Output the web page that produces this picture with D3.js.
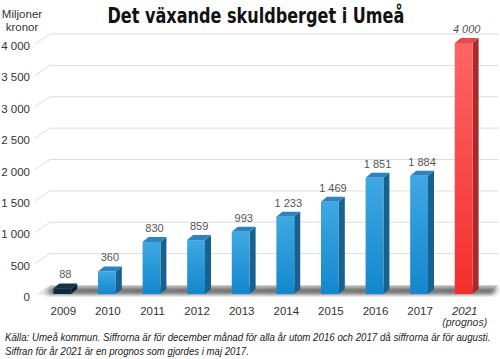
<!DOCTYPE html>
<html><head><meta charset="utf-8">
<script src="https://cdn.jsdelivr.net/npm/d3@7"></script>
<style>
body{margin:0;background:#fff;}
svg{display:block;font-family:"Liberation Sans",sans-serif;}
</style></head>
<body><svg id="c" width="500" height="359"></svg>
<script>
const years = ["2009","2010","2011","2012","2013","2014","2015","2016","2017","2021"];
const values = [88,360,830,859,993,1233,1469,1851,1884,4000];
const valueLabels = ["88","360","830","859","993","1 233","1 469","1 851","1 884","4 000"];
const forecast = [false,false,false,false,false,false,false,false,false,true];
const yTicks = [0,500,1000,1500,2000,2500,3000,3500,4000];
const yTickLabels = ["0","500","1 000","1 500","2 000","2 500","3 000","3 500","4 000"];

const svg = d3.select("#c");
const defs = svg.append("defs");
const x = d3.scaleBand().domain(years).range([40,486]).paddingInner(0.6).paddingOuter(0.3);
const y = d3.scaleLinear().domain([0,4000]).range([294,43]);
const dx = 6, dy = 5;        // bar depth
const gy = 9;                // wall depth offset

function grad(id, c1, c2){
  const g = defs.append("linearGradient").attr("id",id).attr("x1",0).attr("y1",0).attr("x2",0).attr("y2",1);
  g.append("stop").attr("offset","0%").attr("stop-color",c1);
  g.append("stop").attr("offset","100%").attr("stop-color",c2);
}
grad("bFront","#3fa8e2","#1387cc");
grad("rFront","#ff6464","#f42e2e");
grad("floorG","#d9d9d9","#f2f2f2");
defs.append("filter").attr("id","blur").attr("x","-50%").attr("y","-50%").attr("width","200%").attr("height","200%")
  .append("feGaussianBlur").attr("stdDeviation",2.5);

// text squeezed to a given width via transform
function fitText(tx, ty, width, anchor, txt, attrs){
  const g = svg.append("g");
  const t = g.append("text").text(txt);
  Object.entries(attrs).forEach(([k,v])=>t.attr(k,v));
  const len = t.node().getComputedTextLength();
  const s = Math.min(1, width/len);
  const x0 = anchor==="middle" ? tx - width/2 : tx;
  g.attr("transform",`translate(${x0},${ty}) scale(${s},1)`);
  return t;
}

// Title
fitText(256, 23, 297, "middle", "Det växande skuldberget i Umeå",
  {"font-family":"'DejaVu Sans Condensed','Liberation Sans',sans-serif","font-size":21,"font-weight":"bold","fill":"#111"});

// unit label
svg.append("text").attr("x",22).attr("y",18).attr("text-anchor","middle").attr("font-size",11.5).attr("fill","#333").text("Miljoner");
svg.append("text").attr("x",22).attr("y",31).attr("text-anchor","middle").attr("font-size",11.5).attr("fill","#333").text("kronor");

// gridlines (back wall + diagonal)
const grid = svg.append("g");
yTicks.forEach(t=>{
  if(t===0) return;
  const yy = y(t);
  grid.append("path").attr("d",`M35,${yy+1}L50,${yy-gy}L498,${yy-gy}`)
    .attr("fill","none").attr("stroke","#dcdcdc").attr("stroke-width",1);
});
yTicks.forEach((t,i)=>{
  svg.append("text").attr("x",30).attr("y",y(t)+7).attr("text-anchor","end")
    .attr("font-size",11.5).attr("fill","#333").text(yTickLabels[i]);
});

// floor
const fy0 = y(0)-gy+1, fy1 = y(0)+1;
svg.append("path").attr("d",`M50,${fy0}L497,${fy0}L491,${fy1}L35,${fy1}Z`).attr("fill","url(#floorG)");
svg.append("path").attr("d",`M50,${fy0}L497,${fy0}`).attr("stroke","#cfcfcf").attr("fill","none");
// shadows
const sh = svg.append("g").attr("filter","url(#blur)");
years.forEach(yr=>{
  const x0 = x(yr), w = x.bandwidth();
  sh.append("path").attr("d",`M${x0-8},${fy1-1}L${x0+w+dx+14},${fy1-1}L${x0+w+dx+20},${fy0+2}L${x0-2},${fy0+2}Z`)
    .attr("fill","#2a2a2a").attr("opacity",0.75);
});

// bars
const bars = svg.append("g");
years.forEach((yr,i)=>{
  const x0 = x(yr), w = x.bandwidth(), top = y(values[i]), bot = y(0);
  const red = forecast[i];
  const small = values[i] < 150;
  const g = bars.append("g");
  g.append("path").attr("d",`M${x0+w},${top}L${x0+w+dx},${top-dy}L${x0+w+dx},${bot-dy}L${x0+w},${bot}Z`)
    .attr("fill", red?"#a82b2b":(small?"#0b2233":"#17608f"));
  g.append("path").attr("d",`M${x0},${top}L${x0+dx},${top-dy}L${x0+w+dx},${top-dy}L${x0+w},${top}Z`)
    .attr("fill", red?"#e34a4a":(small?"#12324a":"#2c83bd"));
  g.append("rect").attr("x",x0).attr("y",top).attr("width",w).attr("height",bot-top)
    .attr("fill", red?"url(#rFront)":(small?"#0d2a40":"url(#bFront)"));
  svg.append("text").attr("x",x0+w/2+3).attr("y",top-10).attr("text-anchor","middle")
    .attr("font-size",11).attr("fill","#555").attr("font-style",red?"italic":"normal")
    .text(valueLabels[i]);
  svg.append("text").attr("x",x0+w/2+1).attr("y",315).attr("text-anchor","middle")
    .attr("font-size",11.5).attr("fill","#333").attr("font-style",red?"italic":"normal").text(yr);
  if(red){
    svg.append("text").attr("x",x0+w/2+1).attr("y",326).attr("text-anchor","middle")
      .attr("font-size",10.5).attr("fill","#333").attr("font-style","italic").text("(prognos)");
  }
});

// source
const srcAttrs = {"font-size":11,"font-style":"italic","fill":"#222"};
fitText(5, 341, 486, "start", "Källa: Umeå kommun. Siffrorna är för december månad för alla år utom 2016 och 2017 då siffrorna är för augusti.", srcAttrs);
fitText(5, 355, 244, "start", "Siffran för år 2021 är en prognos som gjordes i maj 2017.", srcAttrs);
</script></body></html>
